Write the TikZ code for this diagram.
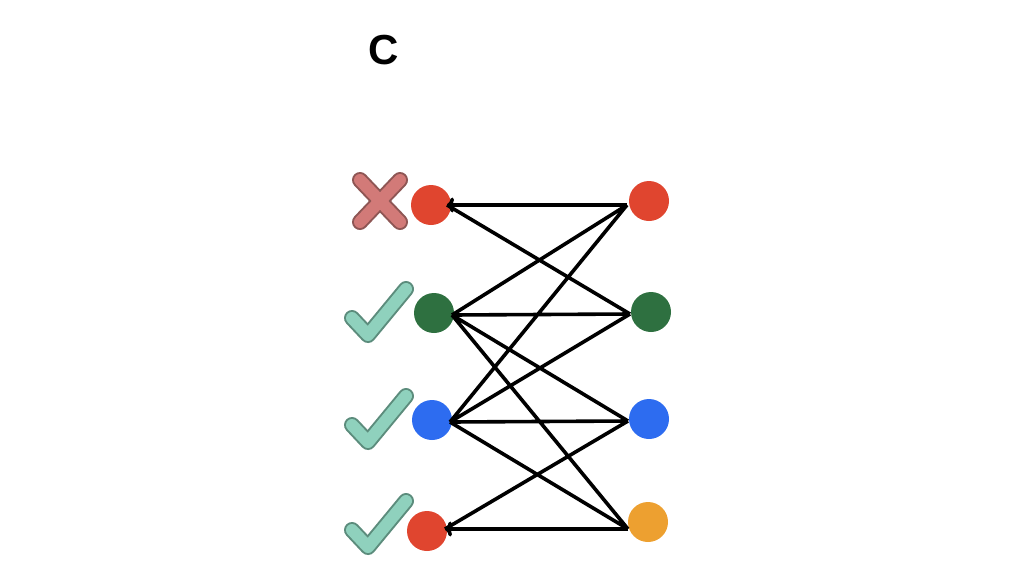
\documentclass[tikz,border=0pt]{standalone}
\usepackage{fontspec}
\setmainfont{Liberation Sans}
\usetikzlibrary{arrows.meta}
\begin{document}
\begin{tikzpicture}[x=1pt,y=-1pt,
  dot/.style={circle,minimum size=40pt,inner sep=0pt},
  edge/.style={line width=3.6pt,black},
  arr/.style={edge,-{To[length=7pt,width=15pt]}},
  mk/.style={line width=16pt,line cap=round,line join=round},
  mkin/.style={line width=12pt,line cap=round,line join=round}]
\definecolor{cred}{HTML}{E0452F}
\definecolor{cgreen}{HTML}{2E7040}
\definecolor{cblue}{HTML}{2D6CF0}
\definecolor{corange}{HTML}{EDA030}
\definecolor{xin}{HTML}{D27A78}
\definecolor{xout}{HTML}{8E5654}
\definecolor{cin}{HTML}{8FD1BD}
\definecolor{cout}{HTML}{5C8C7C}
\useasboundingbox (0,0) rectangle (1024,576);
\node (title) at (384,50) {\fontsize{42}{44}\selectfont\bfseries C};
\node[dot,fill=cred] (L1) at (431,205) {};
\node[dot,fill=cgreen] (L2) at (434,313) {};
\node[dot,fill=cblue] (L3) at (432,420) {};
\node[dot,fill=cred] (L4) at (427,531) {};
\node[dot,fill=cred] (R1) at (649,201) {};
\node[dot,fill=cgreen] (R2) at (651,312) {};
\node[dot,fill=cblue] (R3) at (649,419) {};
\node[dot,fill=corange] (R4) at (648,522) {};
\coordinate (l1) at (447,205);
\coordinate (l2) at (452,315);
\coordinate (l3) at (450,422);
\coordinate (l4) at (445,529);
\coordinate (r1) at (627,205);
\coordinate (r2) at (630,314);
\coordinate (r3) at (628,421);
\coordinate (r4) at (628,529);
\draw[arr] (r1) -- (l1);
\draw[arr] (r4) -- (l4);
\draw[edge] (r1) -- (l2) (r1) -- (l3) (l1) -- (r2)
  (l2) -- (r2) (l2) -- (r3) (l2) -- (r4) (r2) -- (l3)
  (l3) -- (r3) (l3) -- (r4) (r3) -- (l4);
% cross
\draw[mk,xout] (360,180) -- (400,222) (400,180) -- (360,222);
\draw[mkin,xin] (360,180) -- (400,222) (400,180) -- (360,222);
% checks
\foreach \y in {313,420,525}{
  \draw[mk,cout] (352,\y+5) -- (368,\y+22) -- (406,\y-24);
  \draw[mkin,cin] (352,\y+5) -- (368,\y+22) -- (406,\y-24);
}
\end{tikzpicture}
\end{document}
